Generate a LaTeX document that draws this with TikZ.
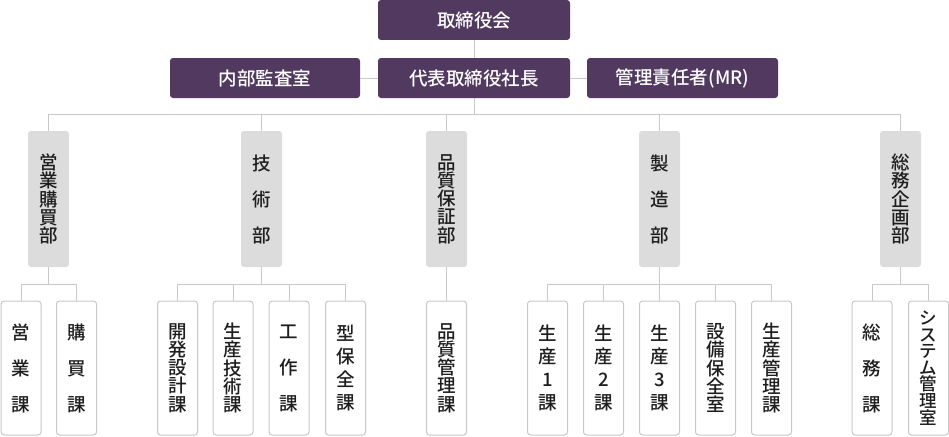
\documentclass[tikz,border=0pt]{standalone}
\usepackage{fontspec}
\setmainfont{Noto Sans CJK JP}[UprightFont=* Medium]
\definecolor{topfill}{HTML}{52395F}
\definecolor{deptfill}{HTML}{DCDCDC}
\definecolor{linegray}{HTML}{C8C8C8}
\definecolor{txt}{HTML}{1E1E1E}
\tikzset{
  topbox/.style={fill=topfill, rounded corners=3pt, text=white, minimum height=40pt, inner sep=0pt, font=\fontsize{18.5}{19}\selectfont},
  deptbox/.style={fill=deptfill, rounded corners=3pt, text=txt, minimum width=41pt, minimum height=136pt, inner sep=0pt, align=center},
  subbox/.style={draw=linegray, line width=1pt, fill=white, rounded corners=3pt, text=txt, minimum width=40pt, minimum height=134pt, inner sep=0pt, align=center},
  pdense/.style={font=\fontsize{18.5}{18.3}\selectfont},
  psys/.style={font=\fontsize{17.5}{16.6}\selectfont},
  pmid/.style={font=\fontsize{18.5}{23.3}\selectfont},
  pwide/.style={font=\fontsize{18.5}{36}\selectfont},
  conn/.style={draw=linegray, line width=1pt},
}
\begin{document}
\begin{tikzpicture}[x=1pt,y=-1pt]
\useasboundingbox (0,0) rectangle (949,436);
% top
\node[topbox, minimum width=192pt] (board) at (474,20) {取締役会};
\node[topbox, minimum width=190pt] (audit) at (265,78) {内部監査室};
\node[topbox, minimum width=192pt] (ceo) at (474,78) {代表取締役社長};
\node[topbox, minimum width=191pt] (mr) at (682.5,78) {管理責任者(MR)};
% departments
\node[deptbox, pdense] (d1) at (48.5,199) {営\\業\\購\\買\\部};
\node[deptbox, pwide] (d2) at (261.5,199) {技\\術\\部};
\node[deptbox, pdense] (d3) at (446.5,199) {品\\質\\保\\証\\部};
\node[deptbox, pwide] (d4) at (659.5,199) {製\\造\\部};
\node[deptbox, pdense] (d5) at (900.5,199) {総\\務\\企\\画\\部};
% sections
\node[subbox, pwide] (s11) at (21,368) {営\\業\\課};
\node[subbox, pwide] (s12) at (76.5,368) {購\\買\\課};
\node[subbox, pdense] (s21) at (177.5,368) {開\\発\\設\\計\\課};
\node[subbox, pdense] (s22) at (233,368) {生\\産\\技\\術\\課};
\node[subbox, pwide] (s23) at (289,368) {工\\作\\課};
\node[subbox, pmid] (s24) at (345.5,368) {型\\保\\全\\課};
\node[subbox, pdense] (s31) at (446.5,368) {品\\質\\管\\理\\課};
\node[subbox, pmid] (s41) at (547.5,368) {生\\産\\1\\課};
\node[subbox, pmid] (s42) at (603.5,368) {生\\産\\2\\課};
\node[subbox, pmid] (s43) at (659.5,368) {生\\産\\3\\課};
\node[subbox, pdense] (s44) at (715.5,368) {設\\備\\保\\全\\室};
\node[subbox, pdense] (s45) at (771.5,368) {生\\産\\管\\理\\課};
\node[subbox, pwide] (s51) at (872,368) {総\\務\\課};
\node[subbox, psys] (s52) at (928.5,368) {シ\\ス\\テ\\ム\\管\\理\\室};
% connectors
\draw[conn] (board) -- (ceo);
\draw[conn] (audit) -- (ceo);
\draw[conn] (ceo) -- (mr);
\foreach \d in {d1,d2,d3,d4,d5}
  \draw[conn] (ceo.south) -- ++(0,16) -| (\d.north);
\foreach \s in {s11,s12}
  \draw[conn] (d1.south) -- ++(0,17) -| (\s.north);
\foreach \s in {s21,s22,s23,s24}
  \draw[conn] (d2.south) -- ++(0,17) -| (\s.north);
\draw[conn] (d3) -- (s31);
\foreach \s in {s41,s42,s43,s44,s45}
  \draw[conn] (d4.south) -- ++(0,17) -| (\s.north);
\foreach \s in {s51,s52}
  \draw[conn] (d5.south) -- ++(0,17) -| (\s.north);
\end{tikzpicture}
\end{document}
